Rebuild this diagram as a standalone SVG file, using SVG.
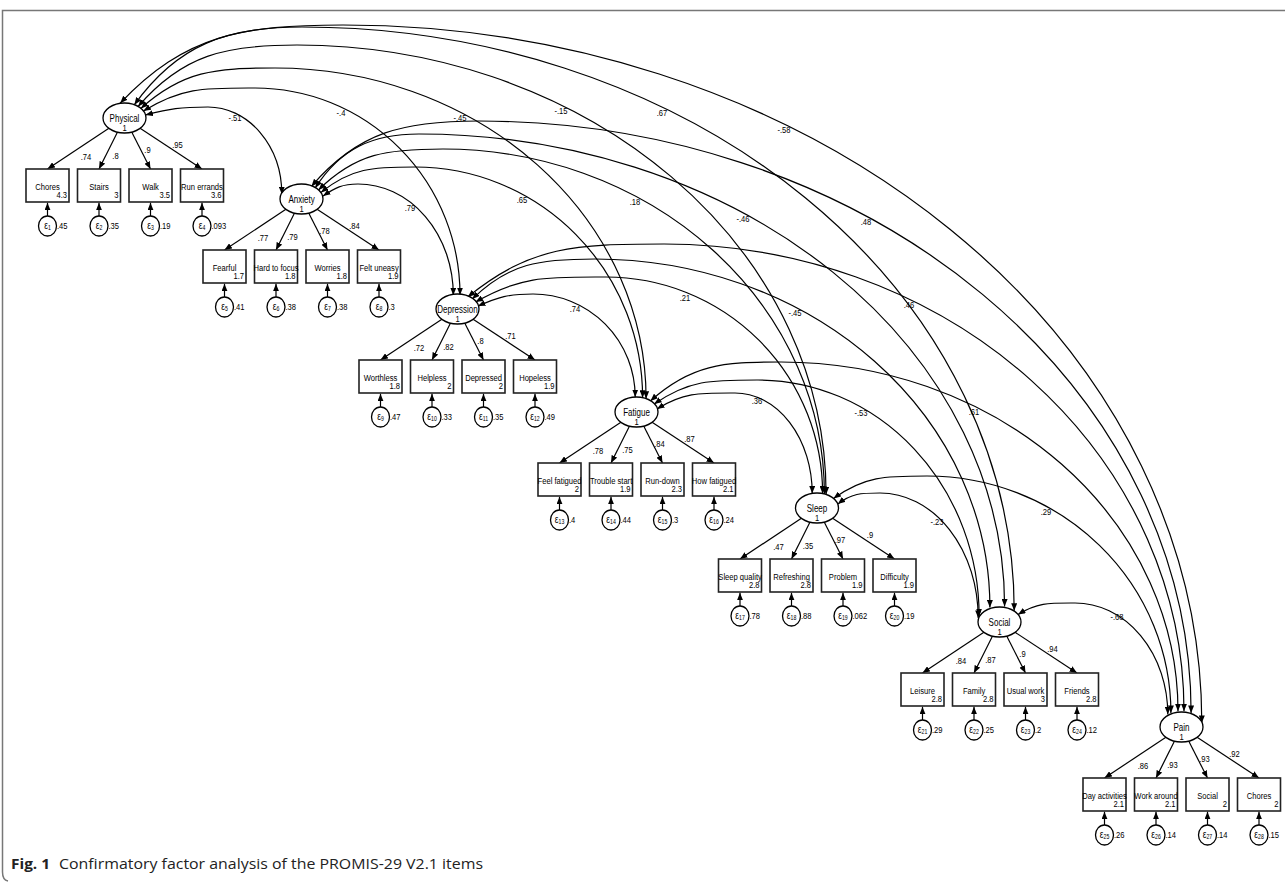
<svg xmlns="http://www.w3.org/2000/svg" xmlns:xlink="http://www.w3.org/1999/xlink" width="1285" height="883" viewBox="0 0 1285 883">
<style>
.lat{fill:#fff;stroke:#000;stroke-width:1.3}
.box{fill:#fff;stroke:#222;stroke-width:1.6}
.err{fill:#fff;stroke:#000;stroke-width:1.3}
.ld{stroke:#000;stroke-width:1.2;marker-end:url(#ah)}
.cv{fill:none;stroke:#000;stroke-width:1.2;marker-start:url(#ah);marker-end:url(#ah)}
text{font-family:"Liberation Sans",Arial,sans-serif;fill:#000;font-size:9.5px;transform:scaleX(.8);transform-box:fill-box;transform-origin:50% 50%}
.n{font-size:10px}
.c{text-anchor:middle}
.e{text-anchor:end;transform-origin:100% 50%}
.s{transform-origin:0% 50%}
.g{font-size:10.5px}
.sb{font-size:6.5px}
.cap{font-family:"Open Sans","Liberation Sans",sans-serif;font-size:14px;fill:#222;transform:none}
</style>
<defs>
<marker id="ah" viewBox="0 0 10 8" refX="10" refY="4" markerWidth="7.5" markerHeight="6" orient="auto-start-reverse" markerUnits="userSpaceOnUse"><path d="M0,0 L10,4 L0,8 z" fill="#000"/></marker>
<g id="frame">
<line class="ld" x1="-15.6" y1="10.3" x2="-77" y2="51"/>
<line class="ld" x1="-7.1" y1="14.2" x2="-25.5" y2="51"/>
<line class="ld" x1="7.2" y1="14.1" x2="26" y2="51"/>
<line class="ld" x1="15.6" y1="10.3" x2="77.5" y2="51"/>
<ellipse class="lat" cx="0" cy="0" rx="21.5" ry="15"/>
<rect class="box" x="-98.5" y="51" width="43" height="33"/>
<rect class="box" x="-47" y="51" width="43" height="33"/>
<rect class="box" x="4.5" y="51" width="43" height="33"/>
<rect class="box" x="56" y="51" width="43" height="33"/>
<line class="ld" x1="-77" y1="98" x2="-77" y2="84.8"/>
<line class="ld" x1="-25.5" y1="98" x2="-25.5" y2="84.8"/>
<line class="ld" x1="26" y1="98" x2="26" y2="84.8"/>
<line class="ld" x1="77.5" y1="98" x2="77.5" y2="84.8"/>
<ellipse class="err" cx="-77" cy="108" rx="9" ry="10"/>
<ellipse class="err" cx="-25.5" cy="108" rx="9" ry="10"/>
<ellipse class="err" cx="26" cy="108" rx="9" ry="10"/>
<ellipse class="err" cx="77.5" cy="108" rx="9" ry="10"/>
</g>
</defs>
<rect width="1285" height="883" fill="#fff"/>
<path d="M1285,10.5 H2.5 V872 Q2.5,880 8,881" fill="none" stroke="#777" stroke-width="1.5"/>

<g id="connectors">
<path class="cv" d="M145.5,114.9 C170.5,108.6 179.9,107 208,107 A73.8,87.2 0 0 1 281.8,194.2"/>
<path class="cv" d="M143.4,111 C182.2,87 204.8,88 255,88 A205,207.1 0 0 1 460,295.1"/>
<path class="cv" d="M140.9,108.4 C182.5,70.9 214.7,68 275,68 A371.1,330.8 0 0 1 646.1,398.8"/>
<path class="cv" d="M138.1,106.5 C182.6,54.8 225.5,45 297,45 A529.1,449.4 0 0 1 826.1,494.4"/>
<path class="cv" d="M134.3,104.8 C177.5,44.7 226.5,27 302,27 A712.2,583.7 0 0 1 1014.2,610.7"/>
<path class="cv" d="M120.2,103.2 C185.2,34.7 242.7,25 343,25 A858.8,697.9 0 0 1 1201.8,722.9"/>
<path class="cv" d="M323,196.1 C335.2,187.7 342.3,184 358,184 A95.3,111.2 0 0 1 453.3,295.2"/>
<path class="cv" d="M321,192.4 C351.3,167.8 372.7,167 415,167 A227.6,230.7 0 0 1 642.6,397.7"/>
<path class="cv" d="M318.5,190 C355.8,153.2 387,149 443,149 A381.4,344.9 0 0 1 824.4,493.9"/>
<path class="cv" d="M315.2,188 C340.4,148.6 372.3,134 419,134 A585.6,472.5 0 0 1 1004.6,606.5"/>
<path class="cv" d="M311.4,186.4 C358.2,131.7 403.6,121 479,121 A712.1,591.9 0 0 1 1191.1,712.9"/>
<path class="cv" d="M478,306.1 C498.6,297 508.3,294 533,294 A102.2,103 0 0 1 635.2,397"/>
<path class="cv" d="M475.6,302 C521.6,275.5 547.3,277 606,277 A216.6,216.5 0 0 1 822.6,493.5"/>
<path class="cv" d="M472.2,299.1 C509.1,262.9 539.7,259 595,259 A394.9,348.5 0 0 1 989.9,607.5"/>
<path class="cv" d="M467.8,296.9 C531,245.8 575.7,244 664,244 A520,467.2 0 0 1 1184,711.2"/>
<path class="cv" d="M657,408.9 C684.1,392.3 699.9,393 735,393 A77.2,100.4 0 0 1 812.2,493.4"/>
<path class="cv" d="M654.2,404.1 C689.1,379.8 711.3,380 758,380 A221.1,236 0 0 1 979.1,616"/>
<path class="cv" d="M650.4,400.9 C691.1,364.6 722.2,362 781,362 A397,349.2 0 0 1 1178,711.2"/>
<path class="cv" d="M837.8,504.1 C851.5,493.3 861,493 880,493 A98.2,124.9 0 0 1 978.2,617.9"/>
<path class="cv" d="M833.5,498.4 C864.7,476 884.9,476 927,476 A243.9,236.9 0 0 1 1170.9,712.9"/>
<path class="cv" d="M1018,614.5 C1037.9,602.4 1049.3,603 1075,603 A92.8,111.4 0 0 1 1167.8,714.4"/>
<g>
<text class="c" x="235" y="121">-.51</text>
<text class="c" x="341" y="116">-.4</text>
<text class="c" x="460" y="121">-.45</text>
<text class="c" x="561" y="114">-.15</text>
<text class="c" x="662" y="116">.67</text>
<text class="c" x="784" y="133">-.58</text>
<text class="c" x="410" y="211">.79</text>
<text class="c" x="522" y="203">.65</text>
<text class="c" x="635" y="205">.18</text>
<text class="c" x="743" y="222">-.46</text>
<text class="c" x="866" y="225">.48</text>
<text class="c" x="575" y="312">.74</text>
<text class="c" x="685" y="301">.21</text>
<text class="c" x="795" y="316">-.45</text>
<text class="c" x="909" y="308">.46</text>
<text class="c" x="757" y="404">.36</text>
<text class="c" x="861" y="416">-.53</text>
<text class="c" x="974" y="415">.61</text>
<text class="c" x="937" y="525">-.23</text>
<text class="c" x="1046" y="515">.29</text>
<text class="c" x="1117" y="620">-.68</text>
</g>
</g>

<g id="physical" transform="translate(124.5,118)">
<use href="#frame"/>
<text class="n c" y="4">Physical</text><text class="c" y="13.5">1</text>
<text class="c" x="-38.5" y="42">.74</text><text class="c" x="-9" y="41.5">.8</text><text class="c" x="23" y="35">.9</text><text class="c" x="53" y="30">.95</text>
<text class="c" x="-77" y="72">Chores</text><text class="e" x="-57.5" y="80.5">4.3</text>
<text class="c" x="-25.5" y="72">Stairs</text><text class="e" x="-6" y="80.5">3</text>
<text class="c" x="26" y="72">Walk</text><text class="e" x="45.5" y="80.5">3.5</text>
<text class="c" x="77.5" y="72">Run errands</text><text class="e" x="97" y="80.5">3.6</text>
<text class="c g" x="-77" y="111">ε<tspan class="sb" dy="1.5">1</tspan></text><text class="s" x="-67.5" y="111.5">.45</text>
<text class="c g" x="-25.5" y="111">ε<tspan class="sb" dy="1.5">2</tspan></text><text class="s" x="-16" y="111.5">.35</text>
<text class="c g" x="26" y="111">ε<tspan class="sb" dy="1.5">3</tspan></text><text class="s" x="35.5" y="111.5">.19</text>
<text class="c g" x="77.5" y="111">ε<tspan class="sb" dy="1.5">4</tspan></text><text class="s" x="87" y="111.5">.093</text>
</g>

<g id="anxiety" transform="translate(301.5,199)">
<use href="#frame"/>
<text class="n c" y="4">Anxiety</text><text class="c" y="13.5">1</text>
<text class="c" x="-38.5" y="42">.77</text><text class="c" x="-9" y="41.5">.79</text><text class="c" x="23" y="35">.78</text><text class="c" x="53" y="30">.84</text>
<text class="c" x="-77" y="72">Fearful</text><text class="e" x="-57.5" y="80.5">1.7</text>
<text class="c" x="-25.5" y="72">Hard to focus</text><text class="e" x="-6" y="80.5">1.8</text>
<text class="c" x="26" y="72">Worries</text><text class="e" x="45.5" y="80.5">1.8</text>
<text class="c" x="77.5" y="72">Felt uneasy</text><text class="e" x="97" y="80.5">1.9</text>
<text class="c g" x="-77" y="111">ε<tspan class="sb" dy="1.5">5</tspan></text><text class="s" x="-67.5" y="111.5">.41</text>
<text class="c g" x="-25.5" y="111">ε<tspan class="sb" dy="1.5">6</tspan></text><text class="s" x="-16" y="111.5">.38</text>
<text class="c g" x="26" y="111">ε<tspan class="sb" dy="1.5">7</tspan></text><text class="s" x="35.5" y="111.5">.38</text>
<text class="c g" x="77.5" y="111">ε<tspan class="sb" dy="1.5">8</tspan></text><text class="s" x="87" y="111.5">.3</text>
</g>

<g id="depression" transform="translate(457.5,309)">
<use href="#frame"/>
<text class="n c" y="4">Depression</text><text class="c" y="13.5">1</text>
<text class="c" x="-38.5" y="42">.72</text><text class="c" x="-9" y="41.5">.82</text><text class="c" x="23" y="35">.8</text><text class="c" x="53" y="30">.71</text>
<text class="c" x="-77" y="72">Worthless</text><text class="e" x="-57.5" y="80.5">1.8</text>
<text class="c" x="-25.5" y="72">Helpless</text><text class="e" x="-6" y="80.5">2</text>
<text class="c" x="26" y="72">Depressed</text><text class="e" x="45.5" y="80.5">2</text>
<text class="c" x="77.5" y="72">Hopeless</text><text class="e" x="97" y="80.5">1.9</text>
<text class="c g" x="-77" y="111">ε<tspan class="sb" dy="1.5">9</tspan></text><text class="s" x="-67.5" y="111.5">.47</text>
<text class="c g" x="-25.5" y="111">ε<tspan class="sb" dy="1.5">10</tspan></text><text class="s" x="-16" y="111.5">.33</text>
<text class="c g" x="26" y="111">ε<tspan class="sb" dy="1.5">11</tspan></text><text class="s" x="35.5" y="111.5">.35</text>
<text class="c g" x="77.5" y="111">ε<tspan class="sb" dy="1.5">12</tspan></text><text class="s" x="87" y="111.5">.49</text>
</g>

<g id="fatigue" transform="translate(636.5,412)">
<use href="#frame"/>
<text class="n c" y="4">Fatigue</text><text class="c" y="13.5">1</text>
<text class="c" x="-38.5" y="42">.78</text><text class="c" x="-9" y="41.5">.75</text><text class="c" x="23" y="35">.84</text><text class="c" x="53" y="30">.87</text>
<text class="c" x="-77" y="72">Feel fatigued</text><text class="e" x="-57.5" y="80.5">2</text>
<text class="c" x="-25.5" y="72">Trouble start</text><text class="e" x="-6" y="80.5">1.9</text>
<text class="c" x="26" y="72">Run-down</text><text class="e" x="45.5" y="80.5">2.3</text>
<text class="c" x="77.5" y="72">How fatigued</text><text class="e" x="97" y="80.5">2.1</text>
<text class="c g" x="-77" y="111">ε<tspan class="sb" dy="1.5">13</tspan></text><text class="s" x="-67.5" y="111.5">.4</text>
<text class="c g" x="-25.5" y="111">ε<tspan class="sb" dy="1.5">14</tspan></text><text class="s" x="-16" y="111.5">.44</text>
<text class="c g" x="26" y="111">ε<tspan class="sb" dy="1.5">15</tspan></text><text class="s" x="35.5" y="111.5">.3</text>
<text class="c g" x="77.5" y="111">ε<tspan class="sb" dy="1.5">16</tspan></text><text class="s" x="87" y="111.5">.24</text>
</g>

<g id="sleep" transform="translate(817,508)">
<use href="#frame"/>
<text class="n c" y="4">Sleep</text><text class="c" y="13.5">1</text>
<text class="c" x="-38.5" y="42">.47</text><text class="c" x="-9" y="41.5">.35</text><text class="c" x="23" y="35">.97</text><text class="c" x="53" y="30">.9</text>
<text class="c" x="-77" y="72">Sleep quality</text><text class="e" x="-57.5" y="80.5">2.8</text>
<text class="c" x="-25.5" y="72">Refreshing</text><text class="e" x="-6" y="80.5">2.8</text>
<text class="c" x="26" y="72">Problem</text><text class="e" x="45.5" y="80.5">1.9</text>
<text class="c" x="77.5" y="72">Difficulty</text><text class="e" x="97" y="80.5">1.9</text>
<text class="c g" x="-77" y="111">ε<tspan class="sb" dy="1.5">17</tspan></text><text class="s" x="-67.5" y="111.5">.78</text>
<text class="c g" x="-25.5" y="111">ε<tspan class="sb" dy="1.5">18</tspan></text><text class="s" x="-16" y="111.5">.88</text>
<text class="c g" x="26" y="111">ε<tspan class="sb" dy="1.5">19</tspan></text><text class="s" x="35.5" y="111.5">.062</text>
<text class="c g" x="77.5" y="111">ε<tspan class="sb" dy="1.5">20</tspan></text><text class="s" x="87" y="111.5">.19</text>
</g>

<g id="social" transform="translate(999.5,622)">
<use href="#frame"/>
<text class="n c" y="4">Social</text><text class="c" y="13.5">1</text>
<text class="c" x="-38.5" y="42">.84</text><text class="c" x="-9" y="41.5">.87</text><text class="c" x="23" y="35">.9</text><text class="c" x="53" y="30">.94</text>
<text class="c" x="-77" y="72">Leisure</text><text class="e" x="-57.5" y="80.5">2.8</text>
<text class="c" x="-25.5" y="72">Family</text><text class="e" x="-6" y="80.5">2.8</text>
<text class="c" x="26" y="72">Usual work</text><text class="e" x="45.5" y="80.5">3</text>
<text class="c" x="77.5" y="72">Friends</text><text class="e" x="97" y="80.5">2.8</text>
<text class="c g" x="-77" y="111">ε<tspan class="sb" dy="1.5">21</tspan></text><text class="s" x="-67.5" y="111.5">.29</text>
<text class="c g" x="-25.5" y="111">ε<tspan class="sb" dy="1.5">22</tspan></text><text class="s" x="-16" y="111.5">.25</text>
<text class="c g" x="26" y="111">ε<tspan class="sb" dy="1.5">23</tspan></text><text class="s" x="35.5" y="111.5">.2</text>
<text class="c g" x="77.5" y="111">ε<tspan class="sb" dy="1.5">24</tspan></text><text class="s" x="87" y="111.5">.12</text>
</g>

<g id="pain" transform="translate(1181.5,727)">
<use href="#frame"/>
<text class="n c" y="4">Pain</text><text class="c" y="13.5">1</text>
<text class="c" x="-38.5" y="42">.86</text><text class="c" x="-9" y="41.5">.93</text><text class="c" x="23" y="35">.93</text><text class="c" x="53" y="30">.92</text>
<text class="c" x="-77" y="72">Day activities</text><text class="e" x="-57.5" y="80.5">2.1</text>
<text class="c" x="-25.5" y="72">Work around</text><text class="e" x="-6" y="80.5">2.1</text>
<text class="c" x="26" y="72">Social</text><text class="e" x="45.5" y="80.5">2</text>
<text class="c" x="77.5" y="72">Chores</text><text class="e" x="97" y="80.5">2</text>
<text class="c g" x="-77" y="111">ε<tspan class="sb" dy="1.5">25</tspan></text><text class="s" x="-67.5" y="111.5">.26</text>
<text class="c g" x="-25.5" y="111">ε<tspan class="sb" dy="1.5">26</tspan></text><text class="s" x="-16" y="111.5">.14</text>
<text class="c g" x="26" y="111">ε<tspan class="sb" dy="1.5">27</tspan></text><text class="s" x="35.5" y="111.5">.14</text>
<text class="c g" x="77.5" y="111">ε<tspan class="sb" dy="1.5">28</tspan></text><text class="s" x="87" y="111.5">.15</text>
</g>

<g id="caption">
<text class="cap" x="11" y="869" font-weight="bold" textLength="39" lengthAdjust="spacingAndGlyphs">Fig. 1</text>
<text class="cap" x="59" y="869" textLength="424" lengthAdjust="spacingAndGlyphs">Confirmatory factor analysis of the PROMIS-29 V2.1 items</text>
</g>
</svg>
